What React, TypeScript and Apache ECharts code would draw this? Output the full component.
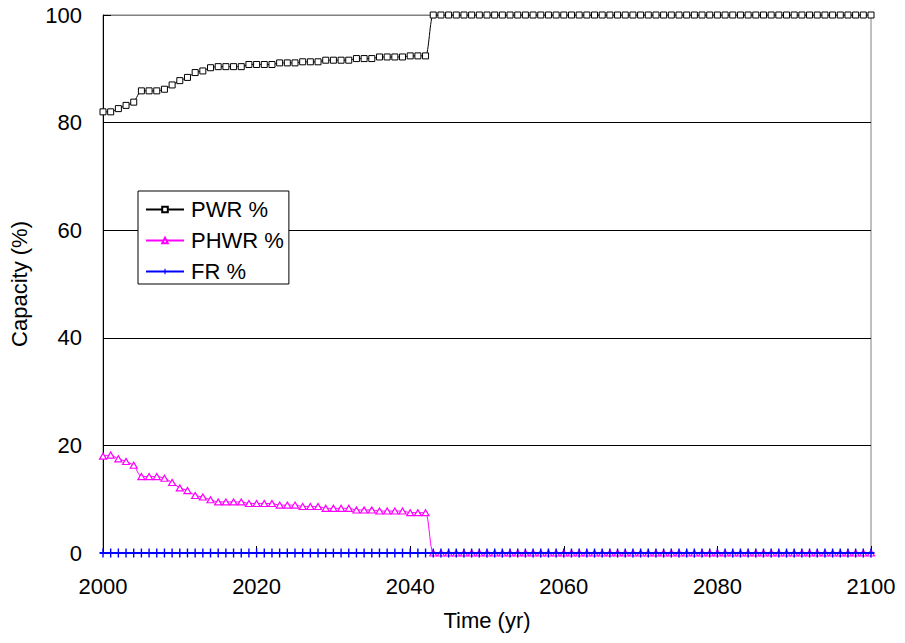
import React, { useEffect, useRef } from "react";
import * as echarts from "echarts";

// Simulation years, one point per year
const years: number[] = [
  2000, 2001, 2002, 2003, 2004, 2005, 2006, 2007, 2008, 2009,
  2010, 2011, 2012, 2013, 2014, 2015, 2016, 2017, 2018, 2019,
  2020, 2021, 2022, 2023, 2024, 2025, 2026, 2027, 2028, 2029,
  2030, 2031, 2032, 2033, 2034, 2035, 2036, 2037, 2038, 2039,
  2040, 2041, 2042, 2043, 2044, 2045, 2046, 2047, 2048, 2049,
  2050, 2051, 2052, 2053, 2054, 2055, 2056, 2057, 2058, 2059,
  2060, 2061, 2062, 2063, 2064, 2065, 2066, 2067, 2068, 2069,
  2070, 2071, 2072, 2073, 2074, 2075, 2076, 2077, 2078, 2079,
  2080, 2081, 2082, 2083, 2084, 2085, 2086, 2087, 2088, 2089,
  2090, 2091, 2092, 2093, 2094, 2095, 2096, 2097, 2098, 2099,
  2100,
];

// Share of installed capacity (%)
const pwr: number[] = [
  82.0, 82.0, 82.6, 83.2, 83.8, 85.9, 85.9, 85.9, 86.2, 87.0,
  87.8, 88.4, 89.3, 89.6, 90.2, 90.4, 90.4, 90.4, 90.4, 90.8,
  90.8, 90.8, 90.8, 91.1, 91.1, 91.1, 91.3, 91.3, 91.3, 91.6,
  91.6, 91.6, 91.6, 91.9, 91.9, 91.9, 92.2, 92.2, 92.2, 92.2,
  92.4, 92.4, 92.4, 100, 100, 100, 100, 100, 100, 100,
  100, 100, 100, 100, 100, 100, 100, 100, 100, 100,
  100, 100, 100, 100, 100, 100, 100, 100, 100, 100,
  100, 100, 100, 100, 100, 100, 100, 100, 100, 100,
  100, 100, 100, 100, 100, 100, 100, 100, 100, 100,
  100, 100, 100, 100, 100, 100, 100, 100, 100, 100,
  100,
];

const phwr: number[] = [
  18.0, 18.2, 17.5, 17.0, 16.3, 14.2, 14.2, 14.2, 13.9, 13.1,
  12.1, 11.6, 10.7, 10.4, 9.9, 9.5, 9.5, 9.5, 9.5, 9.2,
  9.2, 9.2, 9.2, 8.9, 8.9, 8.9, 8.65, 8.65, 8.65, 8.3,
  8.3, 8.3, 8.3, 8.0, 8.0, 8.0, 7.8, 7.8, 7.8, 7.8,
  7.5, 7.5, 7.5, 0, 0, 0, 0, 0, 0, 0,
  0, 0, 0, 0, 0, 0, 0, 0, 0, 0,
  0, 0, 0, 0, 0, 0, 0, 0, 0, 0,
  0, 0, 0, 0, 0, 0, 0, 0, 0, 0,
  0, 0, 0, 0, 0, 0, 0, 0, 0, 0,
  0, 0, 0, 0, 0, 0, 0, 0, 0, 0,
  0,
];

const fr: number[] = [
  0, 0, 0, 0, 0, 0, 0, 0, 0, 0,
  0, 0, 0, 0, 0, 0, 0, 0, 0, 0,
  0, 0, 0, 0, 0, 0, 0, 0, 0, 0,
  0, 0, 0, 0, 0, 0, 0, 0, 0, 0,
  0, 0, 0, 0, 0, 0, 0, 0, 0, 0,
  0, 0, 0, 0, 0, 0, 0, 0, 0, 0,
  0, 0, 0, 0, 0, 0, 0, 0, 0, 0,
  0, 0, 0, 0, 0, 0, 0, 0, 0, 0,
  0, 0, 0, 0, 0, 0, 0, 0, 0, 0,
  0, 0, 0, 0, 0, 0, 0, 0, 0, 0,
  0,
];

const seriesNames = ["PWR %", "PHWR %", "FR %"];

const FONT = "'Liberation Sans', Arial, sans-serif";
const PLUS = "path://M4,0h2v4h4v2h-4v4h-2v-4h-4v-2h4z";

const pairs = (vals: number[]) => years.map((y, i) => [y, vals[i]]);

export default function App() {
  const ref = useRef<HTMLDivElement>(null);

  useEffect(() => {
    document.body.style.margin = "0";
    if (!ref.current) return;
    const chart = echarts.init(ref.current, undefined, { renderer: "svg" });
    chart.setOption({
      animation: false,
      backgroundColor: "#fff",
      textStyle: { fontFamily: FONT },
      grid: {
        left: 103,
        right: 34,
        top: 15,
        bottom: 90,
        show: true,
        borderColor: "#808080",
        borderWidth: 1,
      },
      legend: {
        data: seriesNames,
        orient: "vertical",
        left: 138,
        top: 191,
        itemWidth: 38,
        itemHeight: 7,
        itemGap: 8,
        padding: [7, 5, 1, 7],
        backgroundColor: "#fff",
        borderColor: "#000",
        borderWidth: 1,
        borderRadius: 0,
        textStyle: {
          fontFamily: FONT,
          fontSize: 22,
          color: "#000",
          lineHeight: 23,
          padding: [0, 0, 0, 2],
        },
      },
      xAxis: {
        type: "value",
        min: 2000,
        max: 2100,
        interval: 20,
        name: "Time (yr)",
        nameLocation: "middle",
        nameGap: 56,
        nameTextStyle: { fontFamily: FONT, fontSize: 22, color: "#000" },
        axisLine: { show: true, onZero: false, lineStyle: { color: "#000", width: 1 } },
        axisTick: { show: true, inside: true, length: 7, lineStyle: { color: "#000" } },
        axisLabel: {
          fontFamily: FONT,
          fontSize: 22,
          color: "#000",
          margin: 22,
          formatter: (v: number) => String(v),
        },
        splitLine: { show: false },
      },
      yAxis: {
        type: "value",
        min: 0,
        max: 100,
        interval: 20,
        name: "Capacity (%)",
        nameLocation: "middle",
        nameGap: 73,
        nameTextStyle: { fontFamily: FONT, fontSize: 22, color: "#000" },
        axisLine: { show: true, lineStyle: { color: "#000", width: 1 } },
        axisTick: { show: true, inside: true, length: 8, lineStyle: { color: "#000" } },
        axisLabel: { fontFamily: FONT, fontSize: 22, color: "#000", margin: 21 },
        splitLine: {
          show: true,
          lineStyle: {
            color: ["#000", "#000", "#000", "#000", "#000", "#808080"],
            width: 1,
          },
        },
      },
      series: [
        {
          name: seriesNames[0],
          type: "line",
          data: pairs(pwr),
          smooth: 0.25,
          symbol: "rect",
          symbolSize: 6,
          showAllSymbol: true,
          lineStyle: { color: "#000", width: 1 },
          itemStyle: { color: "#fff", borderColor: "#000", borderWidth: 1 },
          z: 2,
        },
        {
          name: seriesNames[1],
          type: "line",
          data: pairs(phwr),
          smooth: 0.25,
          symbol: "triangle",
          symbolSize: [7, 6],
          showAllSymbol: true,
          lineStyle: { color: "#ff00ff", width: 1 },
          itemStyle: { color: "#fff", borderColor: "#ff00ff", borderWidth: 1.2 },
          z: 3,
        },
        {
          name: seriesNames[2],
          type: "line",
          data: pairs(fr),
          symbol: PLUS,
          symbolSize: [7, 9],
          showAllSymbol: true,
          lineStyle: { color: "#0000ff", width: 2 },
          itemStyle: { color: "#0000ff", borderWidth: 0 },
          z: 4,
        },
      ],
    });
    return () => chart.dispose();
  }, []);

  return (
    <div
      ref={ref}
      style={{ position: "fixed", left: 0, top: 0, width: 905, height: 643 }}
    />
  );
}
